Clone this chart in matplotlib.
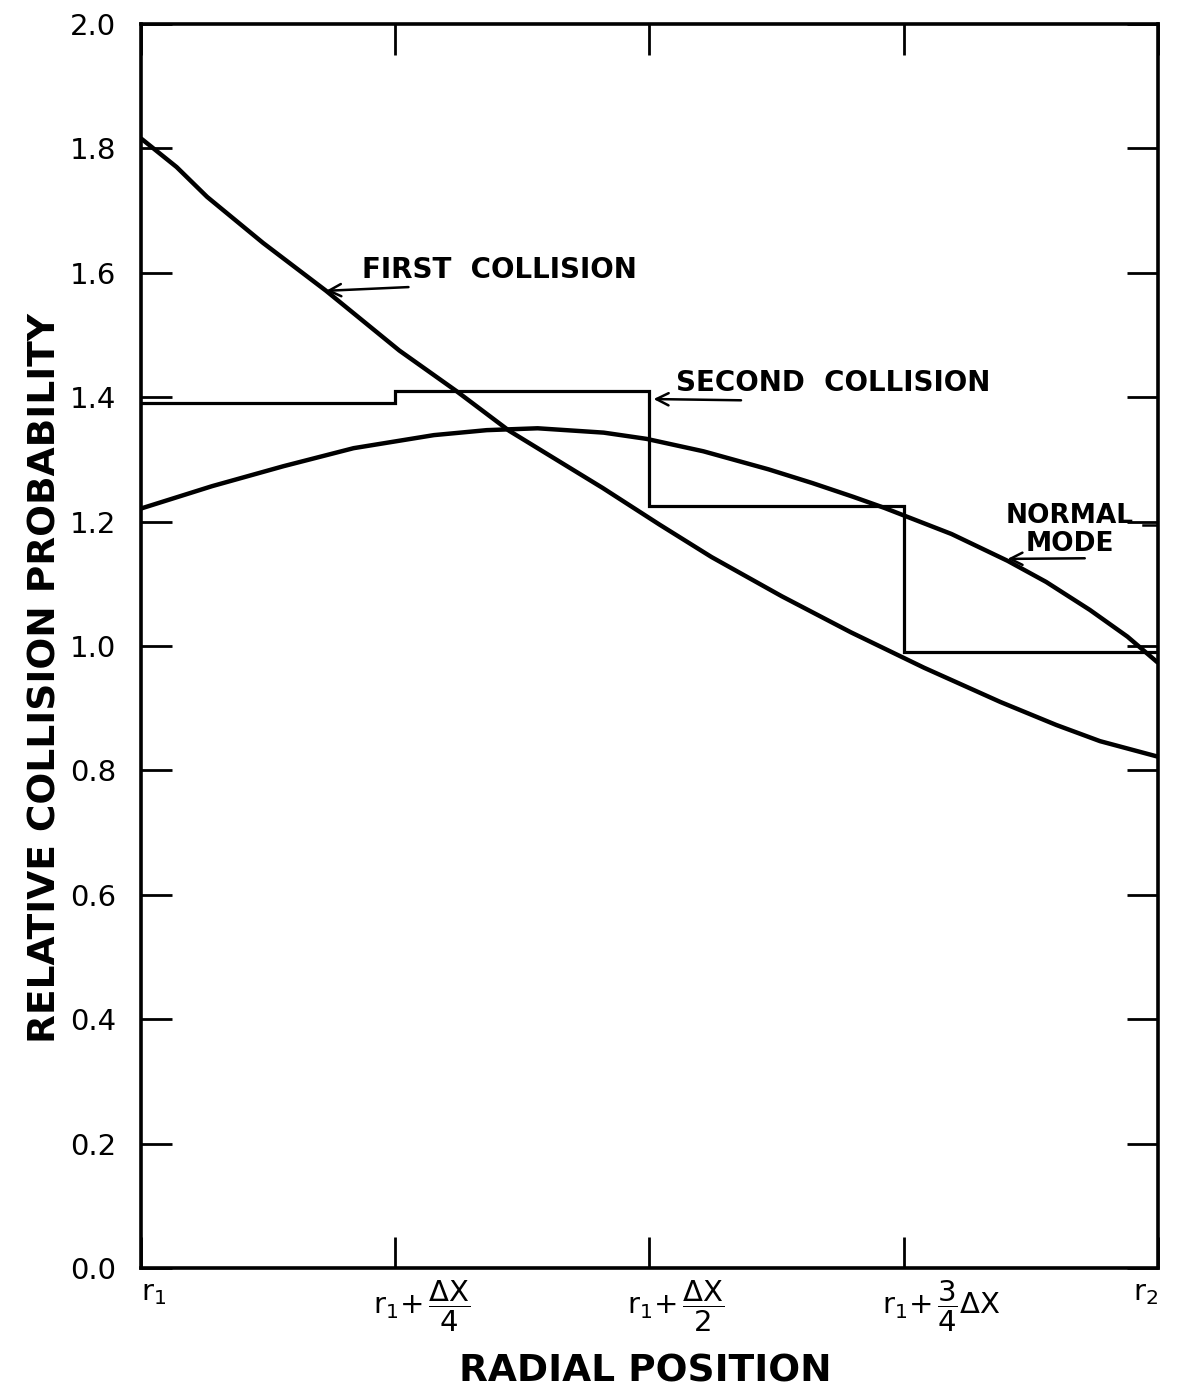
import matplotlib
matplotlib.use('Agg')
import matplotlib.pyplot as plt
import matplotlib.transforms as mtransforms

plt.rcParams['font.family'] = ['DejaVu Sans']
plt.rcParams['mathtext.fontset'] = 'dejavusans'
plt.rcParams['mathtext.default'] = 'regular'

# 读数：横轴为 (r - r1)/ΔX
first_x = [0.0, 0.035, 0.065, 0.12, 0.182, 0.254, 0.31, 0.362, 0.41, 0.454, 0.51,
           0.561, 0.63, 0.698, 0.77, 0.845, 0.90, 0.943, 1.0]
first_y = [1.816, 1.770, 1.722, 1.648, 1.571, 1.475, 1.410, 1.346, 1.298, 1.254, 1.195,
           1.143, 1.080, 1.022, 0.965, 0.910, 0.873, 0.847, 0.822]

normal_x = [0.0, 0.07, 0.14, 0.209, 0.288, 0.34, 0.39, 0.455, 0.497, 0.553, 0.617,
            0.66, 0.70, 0.731, 0.797, 0.852, 0.89, 0.933, 0.97, 1.0]
normal_y = [1.221, 1.257, 1.289, 1.318, 1.339, 1.347, 1.350, 1.343, 1.333, 1.313, 1.284,
            1.262, 1.240, 1.222, 1.180, 1.137, 1.103, 1.058, 1.015, 0.973]

second_edges = [0.0, 0.25, 0.5, 0.75, 1.0]
second_vals = [1.39, 1.41, 1.225, 0.99]

xtick_pos = [0.0, 0.25, 0.5, 0.75, 1.0]
xtick_labels = [r'$r_1$', r'$r_1{+}\,\dfrac{\Delta X}{4}$', r'$r_1{+}\,\dfrac{\Delta X}{2}$',
                r'$r_1{+}\,\dfrac{3}{4}\Delta X$', r'$r_2$']
ytick_pos = [0.0, 0.2, 0.4, 0.6, 0.8, 1.0, 1.2, 1.4, 1.6, 1.8, 2.0]

fig = plt.figure(figsize=(11.97, 13.94), dpi=100)
ax = fig.add_axes([0.1178, 0.0904, 0.8496, 0.8924])

ax.plot(first_x, first_y, color='black', lw=3.2, solid_capstyle='butt')
ax.plot(normal_x, normal_y, color='black', lw=3.2, solid_capstyle='butt')
ax.stairs(second_vals, second_edges, baseline=None, color='black', lw=2.3)

ax.set_xlim(0, 1)
ax.set_ylim(0, 2)
ax.set_xticks(xtick_pos)
ax.set_xticklabels(xtick_labels, fontsize=21)
ax.set_yticks(ytick_pos)
ax.set_yticklabels(['%.1f' % v for v in ytick_pos], fontsize=21)
ax.tick_params(axis='both', direction='in', length=22, width=2, top=True, right=True)
ax.tick_params(axis='y', pad=18)
ax.tick_params(axis='x', pad=8)
for s in ax.spines.values():
    s.set_linewidth(2.6)

# 横轴标签对齐
offs = [0, -22, -22, -22, 0]
has = ['left', 'left', 'left', 'left', 'right']
for lbl, dx, ha in zip(ax.get_xticklabels(), offs, has):
    lbl.set_ha(ha)
    lbl.set_transform(lbl.get_transform() +
                      mtransforms.ScaledTranslation(dx / 100, 0, fig.dpi_scale_trans))

ax.set_ylabel('RELATIVE COLLISION PROBABILITY', fontsize=27, fontweight='bold', va='center')
ax.yaxis.set_label_coords(-0.094, 0.474)
ax.set_xlabel('RADIAL POSITION', fontsize=27, fontweight='bold', va='center')
ax.xaxis.set_label_coords(0.4956, -0.0836)

arrow = dict(arrowstyle='->', color='black', lw=1.8, mutation_scale=22, shrinkA=0, shrinkB=0)

ax.text(0.217, 1.605, 'FIRST  COLLISION', fontsize=20, fontweight='bold', ha='left', va='center')
ax.annotate('', xy=(0.182, 1.571), xytext=(0.263, 1.577), arrowprops=arrow)

ax.text(0.526, 1.422, 'SECOND  COLLISION', fontsize=20, fontweight='bold', ha='left', va='center')
ax.annotate('', xy=(0.504, 1.397), xytext=(0.59, 1.395), arrowprops=arrow)

ax.text(0.913, 1.209, 'NORMAL', fontsize=19, fontweight='bold', ha='center', va='center')
ax.text(0.913, 1.164, 'MODE', fontsize=19, fontweight='bold', ha='center', va='center')
ax.plot([0.985, 1.0], [1.194, 1.194], color='black', lw=1.8)
ax.annotate('', xy=(0.852, 1.140), xytext=(0.928, 1.141), arrowprops=arrow)

fig.savefig('out.png', dpi=100)
